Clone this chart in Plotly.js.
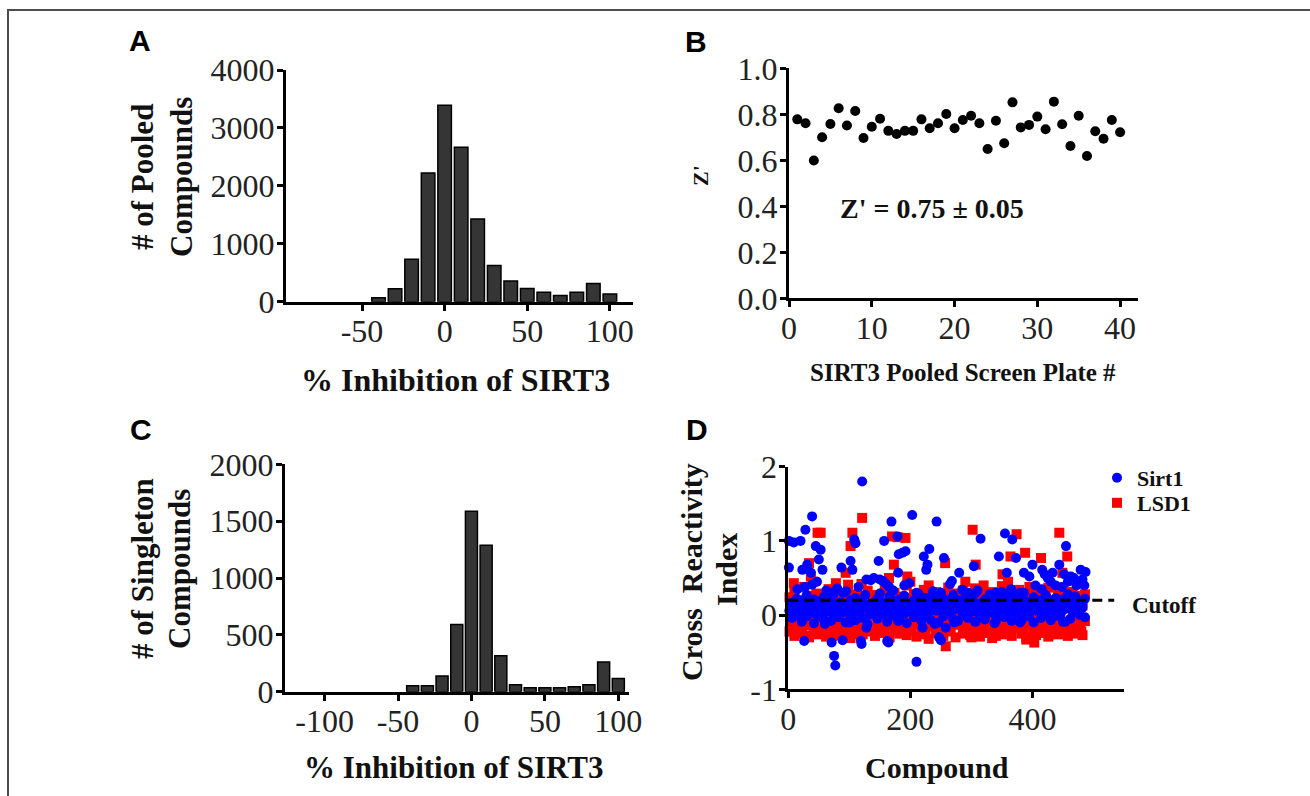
<!DOCTYPE html>
<html>
<head>
<meta charset="utf-8">
<script src="https://cdn.plot.ly/plotly-3.0.1.min.js"></script>
<style>
  html, body { margin: 0; padding: 0; background: #ffffff; }
  #chart { width: 1310px; height: 796px; }
</style>
</head>
<body>
<div id="chart"></div>
<script>
// ---------------- Panel A: pooled screen histogram ----------------
const pooledBins = [-40, -30, -20, -10, 0, 10, 20, 30, 40, 50, 60, 70, 80, 90, 100];
const pooledCounts = [69, 224, 731, 2222, 3390, 2665, 1427, 627, 357, 230, 161, 109, 161, 316, 132];
const pooledTickVals = [-50, 0, 50, 100];
const pooledTickText = ["-50", "0", "50", "100"];

// ---------------- Panel B: Z' per plate ----------------
const plateNumbers = [1,2,3,4,5,6,7,8,9,10,11,12,13,14,15,16,17,18,19,20,
                      21,22,23,24,25,26,27,28,29,30,31,32,33,34,35,36,37,38,39,40];
const zPrime = [0.778,0.761,0.599,0.700,0.758,0.826,0.751,0.814,0.697,0.746,
                0.781,0.728,0.714,0.728,0.728,0.778,0.739,0.761,0.801,0.739,
                0.775,0.794,0.761,0.649,0.772,0.674,0.852,0.743,0.754,0.790,
                0.735,0.855,0.757,0.662,0.794,0.619,0.726,0.694,0.775,0.722];
const zPrimeSummary = "Z' = 0.75 \u00B1 0.05";

// ---------------- Panel C: singleton screen histogram ----------------
const singletonBins = [-40, -30, -20, -10, 0, 10, 20, 30, 40, 50, 60, 70, 80, 90, 100];
const singletonCounts = [53, 53, 138, 592, 1587, 1287, 317, 62, 35, 35, 35, 44, 62, 261, 117];
const singletonTickVals = [-100, -50, 0, 50, 100];
const singletonTickText = ["-100", "-50", "0", "50", "100"];

// ---------------- Panel D: cross reactivity ----------------
const cutoffValue = 0.2;
const cutoffEnd = 534;
const crossTickVals = [-1, 0, 1, 2];
const crossTickText = ["-1", "0", "1", "2"];
const bandCompound = [2,6,10,14,18,22,26,30,34,38,42,46,50,54,58,62,66,70,74,78,
  82,86,90,94,98,102,106,110,114,118,122,126,130,134,138,142,146,150,154,158,
  162,166,170,174,178,182,186,190,194,198,202,206,210,214,218,222,226,230,234,238,
  242,246,250,254,258,262,266,270,274,278,282,286,290,294,298,302,306,310,314,318,
  322,326,330,334,338,342,346,350,354,358,362,366,370,374,378,382,386,390,394,398,
  402,406,410,414,418,422,426,430,434,438,442,446,450,454,458,462,466,470,474,478,
  482,486];
const sirt1BandA = [0.06,-0.04,0.14,0.00,0.18,-0.09,0.09,-0.02,0.16,0.03,
  -0.11,0.12,-0.01,0.19,-0.06,0.08,0.15,-0.08,0.02,0.11,
  -0.03,0.17,0.04,-0.10,0.13,0.00,0.20,-0.07,0.07,0.16,
  -0.04,0.10,-0.12,0.14,0.03,0.18,-0.05,0.08,0.01,0.15,
  -0.09,0.11,-0.01,0.19,0.05,-0.06,0.13,0.02,-0.11,0.09,
  0.17,-0.03,0.12,0.04,-0.08,0.16,0.00,0.10,-0.07,0.18,
  0.06,-0.10,0.14,-0.02,0.11,0.03,0.20,-0.05,0.08,-0.08,
  0.15,0.01,0.12,-0.04,0.18,0.05,-0.09,0.10,-0.01,0.16,
  -0.06,0.13,0.03,0.19,-0.11,0.09,0.00,0.15,-0.03,0.11,
  0.04,-0.08,0.17,0.02,0.12,-0.07,0.08,0.18,-0.02,0.14,
  -0.10,0.06,0.13,-0.04,0.19,0.01,0.10,-0.07,0.15,0.03,
  -0.01,0.17,0.07,-0.09,0.12,-0.05,0.16,0.04,0.09,0.00,
  0.14,-0.03];
const sirt1BandB = [0.06,0.17,-0.01,0.22,0.10,0.19,0.03,0.27,0.08,0.15,
  0.21,0.02,0.13,0.07,0.24,0.04,0.11,0.18,0.28,0.01,
  0.16,0.09,0.30,0.14,0.05,0.20,0.12,0.23,0.03,0.08,
  0.18,0.27,0.10,0.01,0.15,0.06,0.22,0.29,0.17,0.04,
  0.12,0.25,0.19,0.02,0.08,0.21,0.14,0.26,0.11,0.05,
  0.09,0.20,0.01,0.28,0.16,0.06,0.23,0.03,0.19,0.12,
  0.25,0.08,0.15,0.22,0.02,0.18,0.05,0.27,0.09,0.20,
  0.13,0.01,0.24,0.10,0.07,0.19,0.29,0.04,0.16,0.11,
  0.21,0.06,0.27,0.03,0.14,0.23,0.09,0.01,0.26,0.12,
  0.18,0.28,0.05,0.15,0.22,0.08,0.30,0.02,0.17,0.11,
  0.24,0.07,0.13,0.20,0.04,0.27,0.10,0.19,0.06,0.23,
  0.15,0.01,0.21,0.09,0.28,0.12,0.05,0.25,0.03,0.18,
  0.10,0.22];
const lsd1BandLow = [-0.22,-0.10,-0.28,-0.05,-0.18,-0.25,-0.08,-0.14,-0.30,-0.02,
  -0.20,-0.12,-0.26,-0.06,-0.16,-0.29,-0.09,-0.21,-0.03,-0.24,
  -0.13,-0.27,-0.07,-0.19,-0.11,-0.31,-0.04,-0.17,-0.23,-0.10,
  -0.26,-0.06,-0.15,-0.22,-0.01,-0.28,-0.12,-0.19,-0.08,-0.24,
  -0.14,-0.30,-0.05,-0.20,-0.11,-0.25,-0.09,-0.17,-0.27,-0.03,
  -0.21,-0.13,-0.29,-0.07,-0.18,-0.23,-0.10,-0.32,-0.15,-0.04,
  -0.24,-0.12,-0.19,-0.28,-0.06,-0.16,-0.22,-0.09,-0.30,-0.13,
  -0.02,-0.25,-0.17,-0.08,-0.27,-0.14,-0.21,-0.05,-0.29,-0.11,
  -0.18,-0.24,-0.07,-0.31,-0.13,-0.20,-0.03,-0.26,-0.15,-0.09,
  -0.23,-0.28,-0.11,-0.17,-0.06,-0.25,-0.19,-0.30,-0.12,-0.04,
  -0.21,-0.27,-0.08,-0.16,-0.24,-0.10,-0.29,-0.14,-0.20,-0.06,
  -0.26,-0.13,-0.22,-0.09,-0.28,-0.17,-0.05,-0.24,-0.11,-0.19,
  -0.27,-0.08];
const lsd1BandHigh = [0.24,0.05,0.32,0.12,0.20,0.02,0.38,0.10,0.26,0.16,
  0.08,0.29,0.22,0.01,0.25,0.12,0.35,0.18,0.06,0.23,
  0.30,0.14,0.03,0.24,0.41,0.09,0.19,0.28,0.11,0.26,
  0.04,0.17,0.33,0.22,0.07,0.27,0.15,0.00,0.24,0.36,
  0.13,0.21,0.06,0.30,0.16,0.25,0.02,0.23,0.40,0.10,
  0.19,0.28,0.08,0.24,0.14,0.34,0.04,0.21,0.27,0.12,
  0.31,0.17,0.01,0.25,0.20,0.37,0.09,0.15,0.29,0.05,
  0.22,0.33,0.13,0.26,0.03,0.18,0.36,0.11,0.24,0.16,
  0.28,0.07,0.21,0.31,0.14,0.02,0.25,0.39,0.17,0.23,
  0.10,0.30,0.19,0.06,0.34,0.15,0.24,0.01,0.29,0.21,
  0.12,0.32,0.18,0.26,0.08,0.22,0.37,0.14,0.20,0.03,
  0.27,0.16,0.33,0.09,0.24,0.19,0.31,0.05,0.26,0.21,
  0.13,0.28];
const sirt1OutCompound = [121,39,28,1,9,20,1,45,53,50,31,37,23,56,39,87,102,105,108,110,
  148,157,169,179,181,187,192,180,203,198,222,231,228,226,243,255,268,280,304,315,
  345,355,358,367,373,386,395,400,416,433,444,455,463,479,482,415,
  15,27,47,62,70,80,95,115,128,135,140,150,155,160,165,172,190,210,237,250,
  265,285,295,310,330,340,350,365,380,405,420,425,430,438,448,452,458,468,472,476,
  485,487,
  26,71,75,77,89,119,120,162,164,128,210,247,250,258,272,220,307,60,100,180,
  240,340,380,450];
const sirt1OutIndex = [1.80,1.33,1.15,1.00,0.98,1.00,0.64,0.93,0.88,0.75,0.68,0.57,0.61,0.61,0.41,0.64,0.73,0.61,1.02,0.97,
  0.73,1.00,1.26,1.06,0.82,0.84,0.86,0.57,1.35,0.43,0.79,0.89,0.68,0.61,1.26,0.77,0.46,0.57,0.66,1.03,
  0.79,1.10,0.57,1.02,0.77,0.57,0.52,0.68,0.61,0.57,0.68,0.93,0.52,0.61,0.48,0.35,
  0.35,0.38,0.45,0.33,0.30,0.36,0.32,0.38,0.48,0.47,0.50,0.48,0.46,0.42,0.38,0.33,0.40,0.30,0.32,0.30,
  0.42,0.34,0.30,0.33,0.28,0.30,0.31,0.35,0.30,0.40,0.55,0.50,0.45,0.40,0.38,0.55,0.45,0.50,0.40,0.45,
  0.40,0.58,
  -0.35,-0.37,-0.55,-0.68,-0.34,-0.35,-0.39,-0.35,-0.37,-0.17,-0.63,-0.30,-0.34,-0.17,-0.10,-0.17,-0.09,-0.12,-0.10,-0.08,
  -0.12,-0.08,-0.10,-0.09];
const lsd1OutCompound = [121,48,53,105,102,170,179,192,173,302,307,257,374,364,388,414,444,457,449,351,
  195,94,34,37,9,78,165,
  258,403,427,94,67,72,28,7,110,225,390,300,340,470,480,
  40,120,200,230,290,320,360,395,430];
const lsd1OutIndex = [1.31,1.11,1.11,1.11,0.93,1.06,1.05,1.04,0.68,1.15,0.68,0.70,1.09,0.79,0.84,0.77,1.11,0.79,0.57,0.55,
  0.52,0.57,0.70,0.52,0.43,0.43,0.50,
  -0.42,-0.37,-0.26,-0.24,-0.28,-0.28,-0.28,-0.22,-0.26,-0.26,-0.33,-0.30,-0.28,-0.25,-0.22,
  0.45,0.42,0.45,0.40,0.45,0.40,0.45,0.38,0.40];

// ---------------- layout helpers ----------------
const W = 1310, H = 796;
const fx = p => p / W;
const fy = p => 1 - p / H;

const serif = "Liberation Serif, Times New Roman, serif";
const sans = "Liberation Sans, Arial, sans-serif";

function axisBase(extra) {
  return Object.assign({
    showline: true, linecolor: "#000", linewidth: 3, mirror: false,
    ticks: "outside", ticklen: 6, tickwidth: 3, tickcolor: "#000",
    showgrid: false, zeroline: false, fixedrange: true,
    tickfont: { family: serif, size: 32, color: "#222" }
  }, extra);
}
const xAxis = extra => axisBase(Object.assign({ ticklabelstandoff: -7 }, extra));
const yAxis = extra => axisBase(Object.assign({ ticklabelstandoff: -4 }, extra));

const barStyle = { color: "#353535", line: { color: "#000", width: 1.5 } };

const lsd1X = bandCompound.concat(bandCompound, lsd1OutCompound);
const lsd1Y = lsd1BandLow.concat(lsd1BandHigh, lsd1OutIndex);
const sirt1X = bandCompound.concat(bandCompound, sirt1OutCompound);
const sirt1Y = sirt1BandA.concat(sirt1BandB, sirt1OutIndex);

const traces = [
  { type: "bar", x: pooledBins, y: pooledCounts, width: 8.2, marker: barStyle,
    xaxis: "x", yaxis: "y", showlegend: false, hoverinfo: "skip" },
  { type: "scatter", mode: "markers", x: plateNumbers, y: zPrime,
    marker: { color: "#000", size: 10 }, xaxis: "x2", yaxis: "y2",
    showlegend: false, cliponaxis: false, hoverinfo: "skip" },
  { type: "bar", x: singletonBins, y: singletonCounts, width: 8.2, marker: barStyle,
    xaxis: "x3", yaxis: "y3", showlegend: false, hoverinfo: "skip" },
  { type: "scatter", mode: "markers", name: "LSD1", x: lsd1X, y: lsd1Y,
    marker: { color: "#ff0000", size: 10, symbol: "square" },
    xaxis: "x4", yaxis: "y4", cliponaxis: false, legend: "legend2", hoverinfo: "skip" },
  { type: "scatter", mode: "markers", name: "Sirt1", x: sirt1X, y: sirt1Y,
    marker: { color: "#0000ff", size: 10, symbol: "circle" },
    xaxis: "x4", yaxis: "y4", cliponaxis: false, legend: "legend", hoverinfo: "skip" }
];

function ann(text, x, y, size, opts) {
  return Object.assign({
    text: text, xref: "paper", yref: "paper", x: fx(x), y: fy(y),
    xanchor: "center", yanchor: "middle", showarrow: false,
    font: { family: serif, size: size, color: "#111", weight: "bold" }
  }, opts || {});
}
function letter(text, x, y) {
  return ann(text, x, y, 30, { font: { family: sans, size: 30, color: "#000", weight: "bold" } });
}
function legendBox(topPx) {
  return {
    x: fx(1097), y: fy(topPx), xanchor: "left", yanchor: "top",
    font: { family: serif, size: 22, color: "#111", weight: "bold" },
    bgcolor: "rgba(0,0,0,0)", borderwidth: 0
  };
}

const layout = {
  width: W, height: H,
  margin: { l: 0, r: 0, t: 0, b: 0 },
  paper_bgcolor: "#fff", plot_bgcolor: "rgba(0,0,0,0)",
  bargap: 0,
  showlegend: true,
  legend: legendBox(457),
  legend2: legendBox(482),
  xaxis: xAxis({ domain: [fx(286), fx(633)], range: [-96, 114], tickvals: pooledTickVals, ticktext: pooledTickText, anchor: "y" }),
  yaxis: yAxis({ domain: [fy(301.7), fy(70)], range: [0, 4000], dtick: 1000, anchor: "x" }),
  xaxis2: xAxis({ domain: [fx(789), fx(1138.3)], range: [0, 42.2], dtick: 10, anchor: "y2" }),
  yaxis2: yAxis({ domain: [fy(298.3), fy(68.3)], range: [0, 1], dtick: 0.2, tickformat: ".1f", anchor: "x2" }),
  xaxis3: xAxis({ domain: [fx(284.9), fx(628.6)], range: [-127, 107], tickvals: singletonTickVals, ticktext: singletonTickText, anchor: "y3" }),
  yaxis3: yAxis({ domain: [fy(691.7), fy(464.3)], range: [0, 2000], dtick: 500, anchor: "x3" }),
  xaxis4: xAxis({ domain: [fx(788.3), fx(1124)], range: [0, 550], dtick: 200, anchor: "y4" }),
  yaxis4: yAxis({ domain: [fy(689.3), fy(466.7)], range: [-1, 2], tickvals: crossTickVals, ticktext: crossTickText, anchor: "x4" }),
  shapes: [
    { type: "rect", xref: "paper", yref: "paper", x0: fx(8), x1: 1.02, y0: -0.02, y1: fy(10),
      line: { color: "#4d4d4d", width: 2 }, fillcolor: "rgba(0,0,0,0)", layer: "below" },
    { type: "line", xref: "x4", yref: "y4", x0: 0, x1: cutoffEnd, y0: cutoffValue, y1: cutoffValue,
      line: { color: "#000", width: 3, dash: "10px,6px" }, layer: "above" }
  ],
  annotations: [
    letter("A", 140, 40), letter("B", 696, 42), letter("C", 141, 429), letter("D", 697, 429),
    ann("# of Pooled", 142, 177, 31, { textangle: -90 }),
    ann("Compounds", 181, 177, 31, { textangle: -90 }),
    ann("% Inhibition of SIRT3", 455, 380, 32),
    ann("Z'", 700, 176, 22, { textangle: -90 }),
    ann("SIRT3 Pooled Screen Plate #", 963, 372, 25),
    ann(zPrimeSummary, 932, 208, 28),
    ann("# of Singleton", 142, 569, 31, { textangle: -90 }),
    ann("Compounds", 179, 569, 31, { textangle: -90 }),
    ann("% Inhibition of SIRT3", 454, 767, 31),
    ann("Cross  Reactivity", 691, 572, 30, { textangle: -90 }),
    ann("Index", 726, 570, 30, { textangle: -90 }),
    ann("Compound", 937, 767, 30),
    ann("Cutoff", 1130, 605, 23, { xanchor: "left" })
  ]
};

Plotly.newPlot("chart", traces, layout, { displayModeBar: false, staticPlot: true });
</script>
</body>
</html>
